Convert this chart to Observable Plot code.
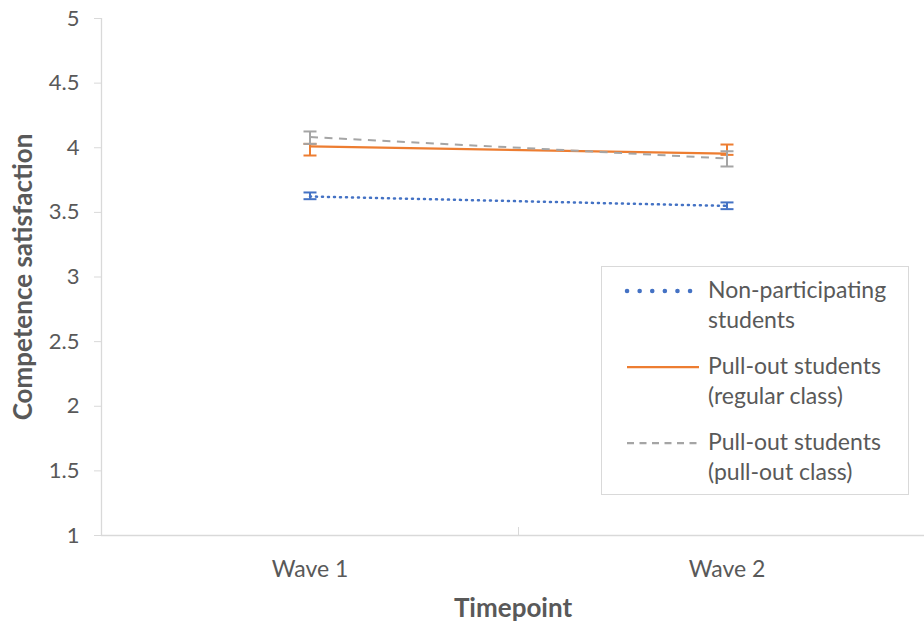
<!DOCTYPE html>
<html><head><meta charset="utf-8">
<script src="https://cdn.jsdelivr.net/npm/d3@7"></script>
<script src="https://cdn.jsdelivr.net/npm/@observablehq/plot@0.6"></script>
<style>
body{margin:0;background:#fff;font-family:Lato,"Open Sans",sans-serif}
#wrap{position:relative;width:924px;height:626px;overflow:hidden}
#legend{position:absolute;left:601px;top:266px;width:306px;height:227px;border:1px solid #d9d9d9;background:#fff;color:#595959;font-size:23px;font-family:Lato,sans-serif}
.item{position:absolute;left:0;width:300px}
.item svg{position:absolute;left:20px;top:0}
.item div{position:absolute;left:106px;top:0;line-height:30px;white-space:nowrap}
</style></head>
<body><div id="wrap"></div>
<script>
const waves = ["Wave 1", "Wave 2"];
const waveIdx = [1, 2];
const seriesNames = ["Non-participating students", "Pull-out students (regular class)", "Pull-out students (pull-out class)"];
const colors = ["#4472C4", "#ED7D31", "#A5A5A5"];
// means and error bar bounds per wave
const nonMean = [3.623, 3.55];
const nonLow = [3.602, 3.525];
const nonHigh = [3.654, 3.577];
const regMean = [4.01, 3.955];
const regLow = [3.94, 3.945];
const regHigh = [4.03, 4.025];
const pullMean = [4.083, 3.917];
const pullLow = [4.03, 3.855];
const pullHigh = [4.126, 3.973];
const yTicks = [1, 1.5, 2, 2.5, 3, 3.5, 4, 4.5, 5];
const xBounds = [0.5, 1.5, 2.5];

function rows(m, lo, hi) {
  return waveIdx.map((w, i) => ({w, mean: m[i], low: lo[i], high: hi[i]}));
}
const sets = [rows(nonMean, nonLow, nonHigh), rows(regMean, regLow, regHigh), rows(pullMean, pullLow, pullHigh)];
const dashes = ["1,5", null, "8,6.5"];
const widths = [2.5, 2.25, 2];

const cap = {draw(ctx, size) { const r = Math.sqrt(size / Math.PI); ctx.moveTo(-r, 0); ctx.lineTo(r, 0); }};

const marks = [
  Plot.ruleX([0.5], {stroke: "#d9d9d9", strokeWidth: 1.3}),
  Plot.ruleY([1], {stroke: "#d9d9d9", strokeWidth: 1.3}),
  Plot.axisY({ticks: yTicks, tickSize: 7, tickPadding: 15, stroke: "#d9d9d9", fill: "#595959",
    fontSize: 22, tickFormat: d => `${d}`,
    label: "Competence satisfaction", labelAnchor: "center", labelArrow: "none", labelOffset: 88}),
  Plot.axisX({ticks: waveIdx, tickSize: 0, tickPadding: 25, fill: "#595959", fontSize: 23,
    tickFormat: d => waves[d - 1], label: "Timepoint", labelAnchor: "center", labelArrow: "none", labelOffset: 81}),
  Plot.axisX({ticks: xBounds, tickSize: -8, stroke: "#d9d9d9", tickFormat: () => "", label: null})
];
sets.forEach((data, k) => {
  marks.push(Plot.line(data, {x: "w", y: "mean", stroke: colors[k], strokeWidth: widths[k],
    strokeDasharray: dashes[k], strokeLinecap: k === 0 ? "round" : "butt"}));
  marks.push(Plot.ruleX(data, {x: "w", y1: "low", y2: "high", stroke: colors[k], strokeWidth: 2}));
  marks.push(Plot.dot(data, {x: "w", y: "low", symbol: cap, r: 6.5, stroke: colors[k], strokeWidth: 2}));
  marks.push(Plot.dot(data, {x: "w", y: "high", symbol: cap, r: 6.5, stroke: colors[k], strokeWidth: 2}));
});

const chart = Plot.plot({
  width: 924, height: 626,
  marginLeft: 101, marginTop: 18, marginBottom: 91, marginRight: 0,
  x: {domain: [0.5, 2.5], range: [101, 935]},
  y: {domain: [1, 5]},
  style: {fontFamily: "Lato, sans-serif", fontSize: "22px", color: "#595959", background: "#fff"},
  marks
});
chart.querySelectorAll("g[aria-label='y-axis label'] text, g[aria-label='x-axis label'] text").forEach(t => {
  t.style.fontWeight = "bold"; t.style.fontSize = "26px"; t.style.fill = "#595959";
});
document.getElementById("wrap").appendChild(chart);

// legend
const legend = document.createElement("div");
legend.id = "legend";
const lines = [["Non-participating", "students"], ["Pull-out students", "(regular class)"], ["Pull-out students", "(pull-out class)"]];
const legDash = ["0.1,12.5", null, "7,5.5"];
lines.forEach((ln, k) => {
  const it = document.createElement("div");
  it.className = "item";
  it.style.top = (7 + k * 76) + "px";
  const s = d3.create("svg").attr("width", 80).attr("height", 30);
  s.append("line").attr("x1", 5).attr("x2", 77).attr("y1", 17).attr("y2", 17)
    .attr("stroke", colors[k]).attr("stroke-width", k === 0 ? 4.5 : 2.25)
    .attr("stroke-linecap", k === 0 ? "round" : "butt")
    .attr("stroke-dasharray", legDash[k]);
  it.appendChild(s.node());
  const tx = document.createElement("div");
  tx.innerHTML = ln[0] + "<br>" + ln[1];
  it.appendChild(tx);
  legend.appendChild(it);
});
document.getElementById("wrap").appendChild(legend);
</script></body></html>
